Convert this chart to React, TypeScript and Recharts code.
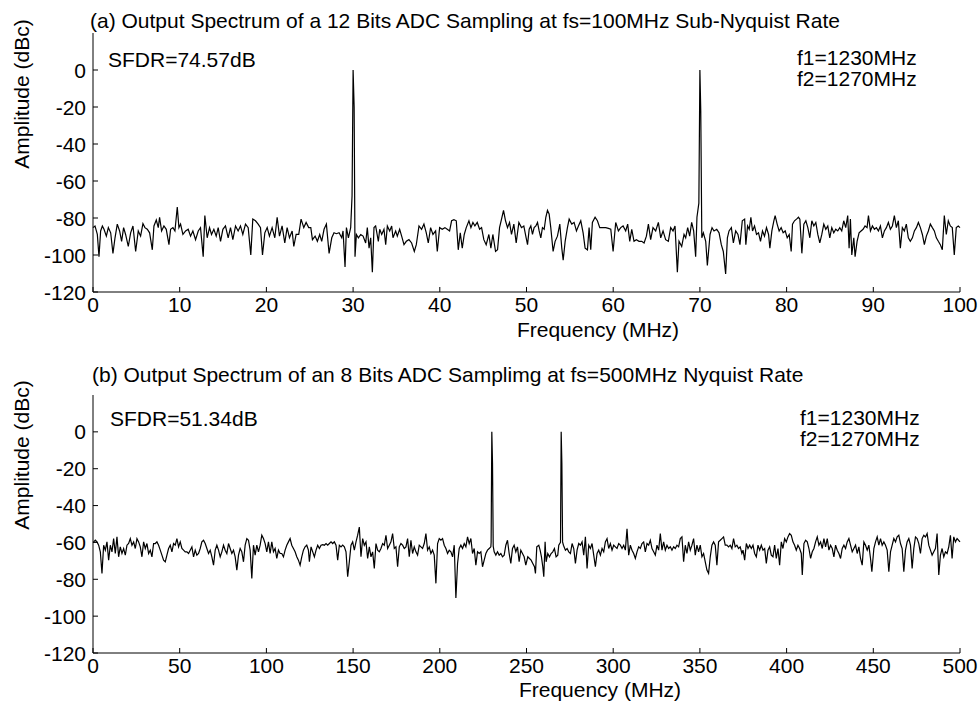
import { Line, LineChart, XAxis, YAxis } from "recharts";

const FONT = '"Liberation Sans", Arial, Helvetica, sans-serif';

const X_TICKS_A = [0, 10, 20, 30, 40, 50, 60, 70, 80, 90, 100];
const X_TICKS_B = [0, 50, 100, 150, 200, 250, 300, 350, 400, 450, 500];
const Y_TICKS = [-120, -100, -80, -60, -40, -20, 0];
const Y_DOMAIN: [number, number] = [-120, 20];

// (a) 12 bit ADC, fs = 100 MHz : [frequency MHz, amplitude dBc]
const SPECTRUM_A: [number, number][] = [
  [0, -85.2], [0.23, -84.3], [0.5, -88.9], [0.69, -100.9], [0.88, -87], [1.08, -84.3], [1.27, -86.1], [1.54, -89.8],
  [1.77, -85.2], [2.04, -88], [2.3, -99.1], [2.54, -90.7], [2.8, -83.3], [3.07, -87], [3.3, -92.6], [3.53, -85.2],
  [3.76, -88.9], [4.07, -95.4], [4.34, -88], [4.61, -84.3], [4.92, -98.1], [5.22, -87], [5.49, -89.8], [5.76, -83],
  [5.99, -85.2], [6.26, -86.1], [6.53, -88], [6.84, -97.2], [7.03, -84.3], [7.3, -81.1], [7.53, -85.2], [7.68, -79.6],
  [7.91, -87], [8.18, -84.3], [8.45, -86.1], [8.76, -94.4], [8.95, -86.1], [9.22, -85.2], [9.45, -87], [9.72, -74.1],
  [9.91, -85.2], [10.1, -83.3], [10.37, -88.9], [10.68, -87], [10.98, -86.1], [11.25, -89.8], [11.52, -87], [11.83, -91.7],
  [12.14, -87], [12.4, -85.2], [12.71, -100.9], [12.9, -78.7], [13.17, -90.7], [13.44, -85.2], [13.67, -88.9], [13.94, -86.1],
  [14.21, -89.8], [14.44, -85.2], [14.71, -92.6], [14.98, -86.1], [15.28, -84.3], [15.59, -90.7], [15.86, -85.2], [16.13, -91.7],
  [16.44, -84.3], [16.74, -87], [17.01, -84.3], [17.28, -88.9], [17.59, -83.3], [17.9, -85.2], [18.2, -100], [18.43, -80.6],
  [18.74, -81.5], [19.05, -83.3], [19.32, -85.2], [19.55, -100], [19.82, -88], [20.09, -85.2], [20.35, -89.8], [20.66, -85.2],
  [20.97, -90.7], [21.24, -79.6], [21.51, -89.8], [21.81, -84.3], [22.12, -93.5], [22.39, -85.2], [22.66, -90.7], [22.97, -87],
  [23.16, -95.4], [23.43, -88.9], [23.73, -88.9], [24, -80.6], [24.31, -85.2], [24.58, -82.4], [24.88, -85.2],
  [25.12, -85.2], [25.31, -91.7], [25.62, -89.8], [25.88, -92.6], [26.15, -88.9], [26.38, -92.6], [26.65, -86.1], [26.92, -83.3],
  [27.23, -99.1], [27.54, -90.7], [27.8, -88], [28.07, -88.5], [28.38, -88], [28.69, -90.7], [28.84, -87], [29.07, -106.5],
  [29.23, -85.2], [29.46, -90.7], [29.72, -85.2], [29.88, -68], [30, 0], [30.12, -20], [30.22, -100.9], [30.38, -88.9],
  [30.61, -90.7], [30.88, -88.9], [31.15, -89.8], [31.45, -93.5], [31.64, -85.2], [31.84, -96.3], [32.03, -90.7], [32.22, -109.3],
  [32.41, -85.2], [32.6, -84.3], [32.91, -92.6], [33.07, -86.1], [33.3, -88.9], [33.56, -86.1], [33.76, -94.4], [33.95, -84.3],
  [34.22, -87], [34.45, -84.3], [34.6, -90.7], [34.91, -87], [35.1, -89.8], [35.37, -86.1], [35.6, -89.8], [35.87, -94.4],
  [36.14, -92.6], [36.44, -91.7], [36.75, -93.5], [37.06, -98.1], [37.29, -94.4], [37.6, -84.3], [37.9, -86.1], [38.17, -83.3],
  [38.44, -88], [38.67, -93.5], [38.94, -85.2], [39.21, -88.9], [39.52, -87], [39.71, -98.1], [39.98, -85.2], [40.28, -86.1],
  [40.59, -85.2], [40.86, -86.1], [41.13, -87], [41.36, -81.5], [41.63, -80.9], [41.9, -81.5], [42.13, -97.2], [42.36, -88],
  [42.59, -96.3], [42.82, -88.9], [43.05, -85.2], [43.36, -81.5], [43.59, -85.2], [43.82, -82.4], [44.05, -84.3], [44.32, -82.4],
  [44.59, -86.1], [44.82, -85.2], [45.08, -91.7], [45.35, -94.4], [45.66, -88.9], [45.89, -96.3], [46.12, -88.9], [46.43, -98.1],
  [46.66, -97.2], [46.89, -85.2], [47.12, -80.6], [47.35, -75.9], [47.58, -81.5], [47.81, -85.2], [48.04, -82.4], [48.27, -88.9],
  [48.54, -83.3], [48.81, -93.5], [49.12, -82.4], [49.42, -85.2], [49.69, -84.3], [49.96, -90.7],
  [50.12, -94.4], [50.31, -86.1], [50.5, -84.3], [50.69, -88.9], [50.88, -85.2], [51.08, -84.3], [51.27, -82.4], [51.46, -87],
  [51.65, -90.7], [51.84, -85.2], [52.04, -86.1], [52.23, -79.6], [52.42, -75.9], [52.61, -77.8], [52.8, -85.2], [53.07, -98.1],
  [53.3, -92.6], [53.57, -89.8], [53.84, -83.3], [54.07, -96.3], [54.23, -102.8], [54.46, -92.6], [54.72, -85.2], [54.92, -80.6],
  [55.22, -83.3], [55.49, -82.4], [55.76, -87], [55.99, -84.3], [56.26, -81.5], [56.53, -88], [56.76, -96.3], [57.03, -97.2],
  [57.22, -85.2], [57.41, -97.2], [57.6, -82.4], [57.91, -79.6], [58.18, -81.5], [58.45, -85.2], [58.76, -85.2], [59.14, -85.2],
  [59.45, -85.6], [59.72, -86.1], [59.99, -98.1], [60.29, -82.4], [60.6, -87], [60.87, -85.2], [61.14, -84.3], [61.44, -87],
  [61.67, -83.3], [61.91, -92.6], [62.14, -86.1], [62.4, -92.6], [62.67, -91.7], [62.98, -92.6], [63.29, -92.6], [63.56, -93.5],
  [63.83, -89.8], [64.06, -83.3], [64.32, -91.7], [64.59, -85.2], [64.9, -87], [65.21, -82.4], [65.48, -90.7], [65.75, -87],
  [66.05, -91.7], [66.36, -92.6], [66.63, -85.2], [66.9, -87], [67.13, -84.3], [67.4, -109.3], [67.59, -92.6], [67.9, -95.4],
  [68.17, -88.9], [68.36, -90.7], [68.59, -85.2], [68.82, -89.8], [69.05, -82.4], [69.28, -87], [69.51, -100.9], [69.66, -79.6],
  [69.88, -72], [70, 0], [70.1, -22], [70.22, -90.7], [70.4, -88], [70.67, -92.6], [70.86, -105.6], [71.17, -88.9],
  [71.4, -85.2], [71.63, -87], [71.94, -86.1], [72.21, -88], [72.47, -94.4], [72.7, -98.1], [72.97, -110.2], [73.17, -90.7],
  [73.36, -87], [73.63, -85.2], [73.86, -93.5], [74.13, -87], [74.39, -88.9], [74.62, -94.4], [74.89, -81.5], [75.16, -80.6],
  [75.3, -94.4], [75.5, -84.3], [75.69, -86.1], [75.88, -79.6], [76.07, -87], [76.3, -84.3], [76.53, -88.9], [76.76, -88],
  [76.99, -92.6], [77.22, -87], [77.45, -89.8], [77.68, -85.2], [77.92, -88.9], [78.07, -96.3], [78.3, -87], [78.53, -81.5],
  [78.68, -78.7], [78.91, -83.3], [79.14, -87], [79.37, -85.2], [79.6, -88], [79.84, -87], [80.07, -90.7], [80.3, -88.9],
  [80.53, -98.1], [80.68, -83.3], [80.91, -81.5], [81.14, -80.6], [81.37, -79.6], [81.53, -80.6], [81.76, -99.1], [81.99, -83.3],
  [82.22, -81.5], [82.45, -85.2], [82.68, -90.7], [82.91, -81.5], [83.14, -84.3], [83.37, -82.4], [83.6, -88.9], [83.83, -93.5],
  [84.06, -88.9], [84.29, -83.3], [84.52, -86.1], [84.75, -84.3], [84.98, -90.7], [85.21, -85.2], [85.44, -88], [85.67, -86.1],
  [85.9, -87], [86.13, -85.2], [86.36, -87], [86.59, -81.5], [86.82, -85.2], [87.05, -78.7], [87.21, -96.3], [87.36, -80.6],
  [87.52, -100], [87.75, -90.7], [87.9, -100.9], [88.13, -92.6], [88.36, -88], [88.59, -87], [88.82, -86.1], [89.05, -84.3],
  [89.28, -85.2], [89.44, -78.7], [89.67, -87], [89.9, -84.3], [90.13, -86.1], [90.36, -85.2], [90.59, -87], [90.82, -84.3],
  [91.05, -90.7], [91.28, -87], [91.51, -85.2], [91.74, -82.4], [91.97, -86.1], [92.2, -84.3], [92.43, -78.7], [92.66, -85.2],
  [92.89, -81.5], [93.12, -96.3], [93.35, -85.2], [93.58, -87], [93.81, -83.3], [94.04, -90.7], [94.27, -92.6], [94.51, -90.7],
  [94.74, -87], [94.97, -85.2], [95.2, -82.4], [95.43, -85.2], [95.66, -88.9], [95.89, -94.4], [96.12, -89.8], [96.35, -87],
  [96.58, -83.3], [96.81, -85.2], [97.04, -87], [97.27, -90.7], [97.5, -92.6], [97.73, -94.4], [97.96, -97.2], [98.19, -78.7],
  [98.42, -88.9], [98.65, -81.5], [98.88, -84.3], [99.11, -85.2], [99.34, -100], [99.57, -85.2], [99.8, -84.3], [100, -85.2],
];

// (b) 8 bit ADC, fs = 500 MHz : [frequency MHz, amplitude dBc]
const SPECTRUM_B: [number, number][] = [
  [0, -60], [0.38, -59.7], [1.34, -58.8], [2.3, -59.7], [3.26, -61.5], [4.22, -65.1], [5.18, -76.8], [6.14, -61.5],
  [7.1, -64.2], [8.06, -59.7], [9.02, -69.6], [9.98, -61.5], [10.94, -65.1], [11.9, -57.9], [12.86, -66], [13.82, -57],
  [14.78, -67.8], [15.74, -62.4], [16.7, -66], [17.67, -63.3], [18.63, -66.9], [19.59, -61.5], [20.55, -60.6], [21.51, -57.9],
  [22.47, -61.5], [23.43, -59.7], [24.39, -63.3], [25.35, -57.9], [26.31, -59.7], [27.27, -62.4], [28.23, -67.8], [29.19, -59.7],
  [30.15, -63.3], [31.11, -60.6], [32.07, -66], [33.03, -64.2], [33.99, -67.8], [34.95, -60.6], [35.91, -60.6], [36.87, -59.7],
  [37.83, -61.5], [38.79, -64.2], [39.75, -66.9], [40.71, -69.6], [41.67, -70.5], [42.63, -66.9], [43.59, -63.3], [44.55, -61.5],
  [45.51, -65.1], [46.47, -60.6], [47.43, -61.5], [48.39, -57.9], [49.35, -62.4], [50.31, -59.7], [51.27, -63.3], [52.23, -64.2],
  [53.19, -65.1], [54.15, -65.1], [55.11, -66], [56.07, -64.2], [57.03, -62.4], [57.99, -67.8], [58.95, -64.2], [59.91, -66.9],
  [60.87, -66], [61.83, -63.3], [62.79, -59.7], [63.75, -58.8], [64.71, -60.6], [65.67, -63.3], [66.63, -66], [67.59, -64.2],
  [68.55, -67.8], [69.51, -72.3], [70.47, -64.2], [71.43, -61.5], [72.39, -64.2], [73.35, -67.8], [74.31, -65.1], [75.27, -61.5],
  [76.23, -64.2], [77.19, -66], [78.15, -60.6], [79.11, -63.3], [80.07, -66], [81.03, -64.2], [81.99, -67.8], [82.95, -75],
  [83.91, -66.9], [84.87, -63.3], [85.83, -65.1], [86.79, -70.5], [87.75, -61.5], [88.71, -57.9], [89.67, -58.8], [90.63, -64.2],
  [91.59, -79.5], [92.55, -61.5], [93.51, -66.9], [94.47, -61.5], [95.43, -65.1], [96.39, -61.5], [97.35, -56.1], [98.31, -57.9],
  [99.27, -60.6], [100.23, -65.1], [101.19, -59.7], [102.15, -66], [103.11, -59.7], [104.07, -65.1], [105.03, -63.3], [105.99, -68.7],
  [106.95, -64.2], [107.91, -66], [108.87, -66], [109.83, -67.8], [110.79, -64.2], [111.75, -61.5], [112.71, -59.7], [113.67, -57.9],
  [114.63, -61.5], [115.59, -63.3], [116.55, -65.1], [117.51, -67.8], [118.47, -69.6], [119.43, -72.3], [120.39, -67.8], [121.35, -64.2],
  [122.31, -62.4], [123.27, -61.5], [124.23, -64.2],
  [124.79, -70.5], [125.75, -62.4], [126.71, -65.1], [127.67, -67.8], [128.63, -64.2], [129.59, -61.5], [130.55, -63.3], [131.51, -61.5],
  [132.47, -61.2], [133.43, -61.5], [134.39, -60.6], [135.35, -61.5], [136.31, -60.6], [137.27, -59.7], [138.23, -60.6], [139.19, -59.7],
  [140.15, -61.5], [141.11, -69.6], [142.07, -61.5], [143.03, -62.4], [143.99, -61.5], [144.95, -62.4], [145.91, -65.1], [146.87, -78.6],
  [147.83, -70.5], [148.79, -61.5], [149.75, -59.7], [150.71, -64.2], [151.67, -59.7], [152.63, -56.1], [153.59, -51.7], [154.55, -67.8],
  [155.51, -57.9], [156.47, -61.5], [157.43, -59.7], [158.39, -68.7], [159.35, -62.4], [160.31, -67.8], [161.27, -65.1], [162.23, -74.1],
  [163.19, -60.6], [164.15, -64.2], [165.11, -65.1], [166.07, -63.3], [167.03, -60.6], [167.99, -61.5], [168.95, -56.1], [169.91, -63.3],
  [170.87, -61.5], [171.83, -59.7], [172.79, -55.2], [173.75, -63.3], [174.71, -62.4], [175.67, -73.2], [176.63, -62.4], [177.59, -60.6],
  [178.55, -61.5], [179.51, -63.3], [180.47, -62.4], [181.43, -57.9], [182.39, -67.8], [183.35, -58.8], [184.31, -66], [185.27, -62.4],
  [186.23, -65.1], [187.19, -66.9], [188.15, -61.5], [189.11, -62.4], [190.07, -63.3], [191.03, -60.6], [191.99, -55.2], [192.95, -64.2],
  [193.91, -62.4], [194.87, -66], [195.83, -64.2], [196.79, -66.9], [197.76, -82.2], [198.72, -60.6], [199.68, -57.9], [200.64, -58.8],
  [201.6, -57.9], [202.56, -61.5], [203.52, -63.3], [204.48, -66], [205.44, -64.2], [206.4, -65.1], [207.36, -67.8], [208.32, -61.5],
  [209.28, -90.2], [210.24, -71.4], [211.2, -63.3], [212.16, -61.5], [213.12, -63.3], [214.08, -60.6], [215.04, -62.4], [216, -57],
  [216.96, -60.6], [217.92, -57.9], [218.88, -66], [219.84, -63.3], [220.8, -72.3], [221.76, -65.1], [222.72, -66], [223.68, -65.1],
  [224.64, -73.2], [225.6, -69.6], [226.56, -66], [227.52, -64.2], [228.48, -63.3], [229.44, -62.4], [229.6, -60], [230, 0],
  [230.4, -17], [230.8, -62], [231.36, -65.1], [232.32, -66.9], [233.28, -65.1], [234.24, -66.9], [235.2, -66], [236.16, -67.8],
  [237.12, -66.9], [238.08, -61.5], [239.04, -58.8], [240, -66], [240.96, -71.4], [241.92, -63.3], [242.88, -61.5], [243.84, -65.1],
  [244.8, -62.4], [245.76, -70.5], [246.72, -64.2], [247.68, -66], [248.64, -67.8], [249.6, -72.3],
  [250.75, -67.8], [251.71, -68.7], [252.67, -69.6], [253.63, -71.4], [254.59, -73.2], [255.17, -76.8], [255.93, -62.4], [257.09, -61.5],
  [257.85, -64.2], [258.62, -67.8], [259.39, -73.2], [259.97, -78.6], [260.73, -59.7], [261.31, -70.5], [262.27, -66], [263.23, -67.8],
  [264.19, -66], [265.15, -65.1], [266.11, -63.3], [267.07, -67.8], [268.03, -66.9], [268.61, -61.5], [269.6, -60], [270, 0],
  [270.4, -17], [270.8, -59.7], [271.3, -61.5], [272.45, -64.2], [273.41, -63.3], [274.37, -65.1], [275.33, -66], [276.29, -60.6],
  [277.25, -63.3], [278.21, -71.4], [279.17, -64.2], [280.13, -60.6], [281.09, -61.5], [282.05, -59.7], [283.01, -66.9], [283.97, -57],
  [284.93, -74.1], [285.89, -61.5], [286.85, -63.3], [287.81, -60.6], [288.77, -66.9], [289.73, -73.2], [290.69, -66], [291.65, -64.2],
  [292.61, -66.9], [293.57, -63.3], [294.53, -65.1], [295.49, -59.7], [296.45, -57.9], [297.41, -63.3], [298.37, -60.6], [299.33, -64.2],
  [300.29, -61.5], [301.25, -62.4], [302.21, -63.3], [303.17, -60.6], [304.13, -61.5], [305.09, -63.3], [306.05, -61.5], [307.01, -64.2],
  [307.97, -52.6], [308.93, -66.9], [309.89, -61.5], [310.85, -64.2], [311.81, -66], [312.77, -68.7], [313.73, -65.1], [314.69, -62.4],
  [315.65, -63.3], [316.61, -60.6], [317.57, -59.7], [318.53, -65.1], [319.49, -60.6], [320.45, -61.5], [321.41, -58.8], [322.37, -63.3],
  [323.33, -65.1], [324.29, -66.9], [325.25, -61.5], [326.21, -64.2], [327.17, -55.2], [328.13, -64.2], [329.09, -59.7], [330.05, -64.2],
  [331.01, -61.5], [331.97, -63.3], [332.93, -62.4], [333.89, -64.2], [334.85, -62.4], [335.81, -63.3], [336.77, -61.5], [337.73, -62.4],
  [338.69, -57.9], [339.65, -57], [340.61, -70.5], [341.57, -61.5], [342.53, -66], [343.49, -59.7], [344.45, -64.2], [345.41, -61.5],
  [346.37, -57.9], [347.33, -66.9], [348.29, -61.5], [349.25, -65.1], [350.21, -61.5], [351.17, -67.8], [352.13, -66], [353.09, -70.5],
  [354.05, -75], [355.01, -76.8], [355.97, -67.8], [356.93, -61.5], [357.89, -59.7], [358.85, -61.5], [359.81, -72.3], [360.77, -59.7],
  [361.73, -58.8], [362.69, -57.9], [363.65, -57], [364.61, -61.5], [365.57, -61.5], [366.53, -62.4], [367.49, -61.5], [368.45, -63.3],
  [369.41, -57.9], [370.37, -62.4], [371.33, -61.5], [372.29, -63.3], [373.25, -62.4], [374.21, -66],
  [374.86, -64.2], [375.82, -69.6], [376.78, -60.6], [377.74, -63.3], [378.7, -61.5], [379.66, -63.3], [380.62, -61.5], [381.58, -66],
  [382.54, -67.8], [383.5, -61.5], [384.46, -64.2], [385.42, -61.5], [386.38, -64.2], [387.34, -63.3], [388.3, -71.4], [389.26, -64.2],
  [390.22, -62.4], [391.18, -66.9], [392.14, -67.8], [393.1, -61.5], [394.06, -68.7], [395.02, -63.3], [395.98, -72.3], [396.94, -59.7],
  [397.9, -63.3], [398.86, -57.9], [399.82, -59.7], [400.78, -57], [401.74, -55.2], [402.7, -56.1], [403.66, -59.7], [404.62, -61.5],
  [405.58, -64.2], [406.54, -61.5], [407.5, -63.3], [408.46, -66], [409.04, -77.7], [410, -60.6], [410.96, -58.8], [411.92, -59.7],
  [412.88, -63.3], [413.84, -68.7], [414.8, -65.1], [415.76, -63.3], [416.72, -59.7], [417.68, -57], [418.64, -61.5], [419.6, -59.7],
  [420.56, -63.3], [421.52, -57.9], [422.48, -62.4], [423.44, -57.9], [424.4, -64.2], [425.36, -61.5], [426.32, -63.3], [427.28, -67.8],
  [428.24, -61.5], [429.2, -64.2], [430.16, -66], [431.12, -68.7], [432.08, -63.3], [433.04, -61.5], [434, -63.3], [434.96, -59.7],
  [435.92, -57.9], [436.88, -61.5], [437.84, -65.1], [438.8, -63.3], [439.76, -61.5], [440.72, -66], [441.68, -62.4], [442.64, -68.7],
  [443.6, -72.3], [444.56, -59.7], [445.52, -61.5], [446.48, -64.2], [447.44, -61.5], [448.4, -68.7], [449.17, -75.9], [450.32, -63.3],
  [451.28, -59.7], [452.24, -57], [453.2, -61.5], [454.16, -57.9], [455.12, -61.5], [456.08, -59.7], [457.04, -61.5], [458, -64.2],
  [458.96, -75.9], [459.92, -65.1], [460.88, -61.5], [461.84, -57.9], [462.8, -59.7], [463.76, -57], [464.72, -56.1], [465.68, -60.6],
  [466.64, -63.3], [467.6, -75.9], [468.56, -64.2], [469.52, -59.7], [470.48, -57.9], [471.44, -61.5], [472.4, -74.1], [473.36, -63.3],
  [474.32, -57], [475.28, -57.9], [476.24, -60.6], [477.2, -66], [478.16, -57.9], [479.12, -56.1], [480.08, -57], [481.04, -55.2],
  [482, -61.5], [482.96, -64.2], [483.92, -66.9], [484.88, -65.1], [485.84, -63.3], [486.8, -55.2], [487.76, -77.7], [488.72, -66.9],
  [489.68, -63.3], [490.64, -67.8], [491.6, -65.1], [492.56, -66], [493.52, -62.4], [494.48, -56.1], [495.44, -68.7], [496.4, -57],
  [497.36, -59.7], [498.32, -57.9], [500, -59.7],
];

const TICK_LEN = 5;
const X_LABEL_GAP = 4;
const Y_LABEL_GAP = 7;
const FONT_SIZE = 21;

const textStyle = { fontFamily: FONT, fontSize: FONT_SIZE, fill: "#000" };

function BottomTick(props: any) {
  const { x, y, payload } = props;
  const axisY = y - X_LABEL_GAP;
  return (
    <g>
      <line x1={x} x2={x} y1={axisY} y2={axisY - TICK_LEN} stroke="#000" />
      <text x={x} y={y} dy="0.74em" textAnchor="middle" {...textStyle}>
        {payload.value}
      </text>
    </g>
  );
}

function LeftTick(props: any) {
  const { x, y, payload } = props;
  const axisX = x + Y_LABEL_GAP;
  return (
    <g>
      <line x1={axisX} x2={axisX + TICK_LEN} y1={y} y2={y} stroke="#000" />
      <text x={x} y={y} dy="0.36em" textAnchor="end" {...textStyle}>
        {payload.value}
      </text>
    </g>
  );
}

function TopTick(props: any) {
  const { x, y } = props;
  return <line x1={x} x2={x} y1={y} y2={y + TICK_LEN} stroke="#000" />;
}

function RightTick(props: any) {
  const { x, y } = props;
  return <line x1={x} x2={x - TICK_LEN} y1={y} y2={y} stroke="#000" />;
}

interface PanelProps {
  spectrum: [number, number][];
  xMax: number;
  xTicks: number[];
  top: number;
  height: number;
  marginTop: number;
  plotHeight: number;
}

function SpectrumPanel({ spectrum, xMax, xTicks, top, height, marginTop, plotHeight }: PanelProps) {
  const rows = spectrum.map(([f, a]) => ({ f, a }));
  return (
    <div style={{ position: "absolute", left: 0, top }}>
      <LineChart
        width={979}
        height={height}
        data={rows}
        margin={{ top: marginTop, right: 19, bottom: 0, left: 1 }}
      >
        <XAxis
          dataKey="f"
          type="number"
          domain={[0, xMax]}
          ticks={xTicks}
          interval={0}
          height={height - marginTop - plotHeight}
          tickSize={0}
          tickMargin={X_LABEL_GAP}
          tickLine={false}
          tick={(p: any) => <BottomTick {...p} />}
          stroke="#000"
        />
        <XAxis
          xAxisId="top"
          orientation="top"
          dataKey="f"
          type="number"
          domain={[0, xMax]}
          ticks={xTicks}
          interval={0}
          height={0}
          tickSize={0}
          tickMargin={0}
          tickLine={false}
          tick={(p: any) => <TopTick {...p} />}
          stroke="#000"
        />
        <YAxis
          type="number"
          domain={Y_DOMAIN}
          ticks={Y_TICKS}
          interval={0}
          width={92}
          tickSize={0}
          tickMargin={Y_LABEL_GAP}
          tickLine={false}
          tick={(p: any) => <LeftTick {...p} />}
          stroke="#000"
        />
        <YAxis
          yAxisId="right"
          orientation="right"
          type="number"
          domain={Y_DOMAIN}
          ticks={Y_TICKS}
          interval={0}
          width={0}
          tickSize={0}
          tickMargin={0}
          tickLine={false}
          tick={(p: any) => <RightTick {...p} />}
          stroke="#000"
        />
        <Line
          dataKey="a"
          type="linear"
          stroke="#000"
          strokeWidth={1.2}
          dot={false}
          activeDot={false}
          isAnimationActive={false}
        />
      </LineChart>
    </div>
  );
}

export default function App() {
  return (
    <div style={{ position: "absolute", left: 0, top: 0, width: 979, height: 704, background: "#fff" }}>
      <SpectrumPanel spectrum={SPECTRUM_A} xMax={100} xTicks={X_TICKS_A} top={0} height={345} marginTop={33} plotHeight={259} />
      <SpectrumPanel spectrum={SPECTRUM_B} xMax={500} xTicks={X_TICKS_B} top={360} height={344} marginTop={35} plotHeight={258} />
      <svg width={979} height={704} style={{ position: "absolute", left: 0, top: 0, pointerEvents: "none" }}>
        <g {...textStyle}>
          <text x={90} y={28}>(a) Output Spectrum of a 12 Bits ADC Sampling at fs=100MHz Sub-Nyquist Rate</text>
          <text x={108} y={67}>SFDR=74.57dB</text>
          <text x={797} y={65}>
            f1=1230MHz
            <tspan x={797} dy={21}>f2=1270MHz</tspan>
          </text>
          <text x={598} y={337} textAnchor="middle">Frequency (MHz)</text>
          <text transform="translate(29,94) rotate(-90)" textAnchor="middle">Amplitude (dBc)</text>

          <text x={92} y={382}>(b) Output Spectrum of an 8 Bits ADC Samplimg at fs=500MHz Nyquist Rate</text>
          <text x={110} y={426}>SFDR=51.34dB</text>
          <text x={800} y={425}>
            f1=1230MHz
            <tspan x={800} dy={21}>f2=1270MHz</tspan>
          </text>
          <text x={600} y={697} textAnchor="middle">Frequency (MHz)</text>
          <text transform="translate(29,455) rotate(-90)" textAnchor="middle">Amplitude (dBc)</text>
        </g>
      </svg>
    </div>
  );
}
